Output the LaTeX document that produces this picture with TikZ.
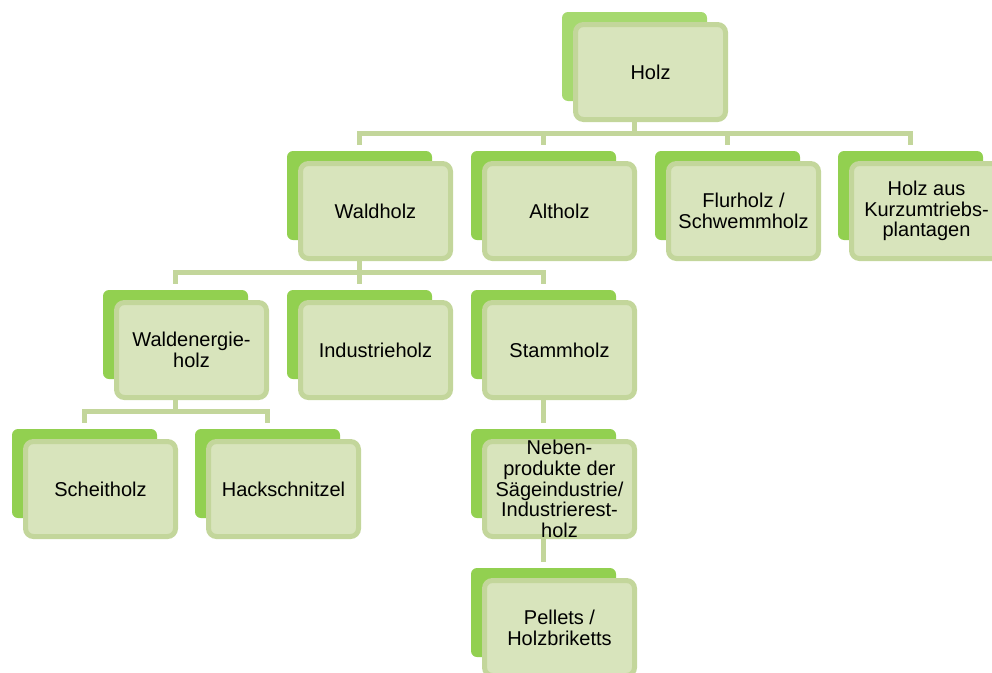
\documentclass[tikz,border=0pt]{standalone}
\usepackage{fontspec}
\setmainfont{Liberation Sans}
\usetikzlibrary{calc}
\definecolor{backgreen}{HTML}{92D050}
\definecolor{backlight}{HTML}{A6D96F}
\definecolor{frontfill}{HTML}{D8E4BC}
\definecolor{frontline}{HTML}{C3D69B}
\pgfdeclarelayer{background}
\pgfsetlayers{background,main}
\tikzset{
  backbox/.style={rectangle,rounded corners=6pt,draw=none,minimum width=145pt,minimum height=89pt,inner sep=0pt},
  frontbox/.style={rectangle,rounded corners=8pt,draw=frontline,line width=5pt,fill=frontfill,minimum width=150pt,minimum height=95pt,inner sep=0pt},
  txt/.style={align=center,inner sep=0pt,font=\fontsize{20pt}{20.7pt}\selectfont,text=black},
  conn/.style={draw=frontline,line width=5pt,line join=miter}
}
\newcommand\mknode[5][backgreen]{%
  \node[backbox,fill=#1] (#2-b) at (#3+72.5,#4+44.5) {};
  \node[frontbox] (#2) at (#3+88.5,#4+60) {};
  \node[txt] (#2-t) at (#2.center) {#5};
}
\begin{document}
\begin{tikzpicture}[x=1pt,y=-1pt]
\useasboundingbox (0,0) rectangle (992,672);
\clip (0,0) rectangle (992,672);
\mknode[backlight]{holz}{562}{12}{Holz}
\mknode{wald}{287}{151}{Waldholz}
\mknode{alt}{471}{151}{Altholz}
\mknode{flur}{655}{151}{Flurholz /\\Schwemmholz}
\mknode{kurz}{838}{151}{Holz aus\\Kurzumtriebs-\\plantagen}
\mknode{wen}{103}{290}{Waldenergie-\\holz}
\mknode{ind}{287}{290}{Industrieholz}
\mknode{stamm}{471}{290}{Stammholz}
\mknode{scheit}{12}{429}{Scheitholz}
\mknode{hack}{195}{429}{Hackschnitzel}
\mknode{neben}{471}{429}{Neben-\\produkte der\\Sägeindustrie/\\Industrierest-\\holz}
\mknode{pell}{471}{568}{Pellets /\\Holzbriketts}
\begin{pgfonlayer}{background}
% level 0 -> 1
\coordinate (j0) at ($(holz-b.center |- holz.south)+(0,11)$);
\draw[conn] (holz-b.center |- holz.south) -- (j0);
\draw[conn] ([yshift=6pt]wald-b.north) -- (wald-b.north |- j0) -- (kurz-b.north |- j0) -- ([yshift=6pt]kurz-b.north);
\draw[conn] (alt-b.north |- j0) -- ([yshift=6pt]alt-b.north);
\draw[conn] (flur-b.north |- j0) -- ([yshift=6pt]flur-b.north);
% level 1 -> 2
\coordinate (j1) at ($(wald-b.center |- wald.south)+(0,11)$);
\draw[conn] (wald-b.center |- wald.south) -- (j1);
\draw[conn] ([yshift=6pt]wen-b.north) -- (wen-b.north |- j1) -- (stamm-b.north |- j1) -- ([yshift=6pt]stamm-b.north);
\draw[conn] (ind-b.north |- j1) -- ([yshift=6pt]ind-b.north);
% level 2 -> 3
\coordinate (j2) at ($(wen-b.center |- wen.south)+(0,11)$);
\draw[conn] (wen-b.center |- wen.south) -- (j2);
\draw[conn] ([yshift=6pt]scheit-b.north) -- (scheit-b.north |- j2) -- (hack-b.north |- j2) -- ([yshift=6pt]hack-b.north);
% vertical chain
\draw[conn] (stamm-b.center |- stamm.south) -- ([yshift=6pt]neben-b.north);
\draw[conn] (neben-b.center |- neben.south) -- ([yshift=6pt]pell-b.north);
\end{pgfonlayer}
\end{tikzpicture}
\end{document}
